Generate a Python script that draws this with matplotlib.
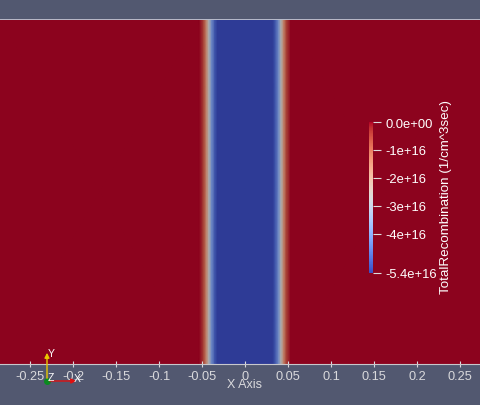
import numpy as np
import matplotlib
matplotlib.use("Agg")
import matplotlib.pyplot as plt
from matplotlib.colors import ListedColormap, Normalize
from matplotlib.cm import ScalarMappable

# total recombination profile across the junction (x in um, values in 1e16 1/cm^3sec)
x_pos = [-0.285, -0.053, -0.048, -0.045, -0.042, -0.039, -0.035, -0.032,
         0.032, 0.035, 0.039, 0.042, 0.045, 0.048, 0.053, 0.275]
recomb = [0.0, 0.0, -0.6, -1.5, -2.7, -4.0, -5.0, -5.4,
          -5.4, -5.0, -4.0, -2.7, -1.5, -0.6, 0.0, 0.0]
y_pos = [0.0, 1.0]
vmin, vmax = -5.4, 0.0
cbar_ticks = [0.0, -1.0, -2.0, -3.0, -4.0, -5.4]
cbar_labels = ["0.0e+00", "-1e+16", "-2e+16", "-3e+16", "-4e+16", "-5.4e+16"]
xticks = [-0.25, -0.2, -0.15, -0.1, -0.05, 0, 0.05, 0.1, 0.15, 0.2, 0.25]
xtick_labels = ["-0.25", "-0.2", "-0.15", "-0.1", "-0.05", "0", "0.05", "0.1", "0.15", "0.2", "0.25"]

bg = "#525870"
txt = "#d9d9dc"
plt.rcParams['font.family'] = ['Liberation Sans', 'DejaVu Sans']

W, H = 480, 406
fig = plt.figure(figsize=(W / 100, H / 100), dpi=100, facecolor=bg)

# lit surface looks darker than the colour legend
base = plt.get_cmap("coolwarm")(np.linspace(0, 1, 256))
lit = base.copy()
lit[:, :3] *= 0.78
lit_cmap = ListedColormap(lit)

ax = fig.add_axes([0, (H - 365) / H, 1, 345 / H])
ax.set_facecolor(bg)
X, Y = np.meshgrid(x_pos, y_pos)
Z = np.vstack([recomb, recomb])
ax.pcolormesh(X, Y, Z, cmap=lit_cmap, vmin=vmin, vmax=vmax, shading="gouraud")
ax.set_xlim(-245 / 860, 235 / 860)
ax.set_ylim(0, 1)
ax.set_yticks([])
for s in ["left", "right"]:
    ax.spines[s].set_visible(False)
ax.spines["top"].set_color("#b8bccb")
ax.spines["top"].set_linewidth(0.7)
ax.spines["bottom"].set_color("#c8c8cc")
ax.spines["bottom"].set_linewidth(0.8)
ax.set_xticks(xticks, labels=xtick_labels)
ax.tick_params(axis="x", direction="inout", length=5, width=0.8, color=txt,
               labelcolor=txt, labelsize=9.2, pad=1.5)
ax.set_xlabel("X Axis", color=txt, fontsize=9, va="center")
ax.xaxis.set_label_coords(245 / W, (365 - 385) / 345)

# colour legend
cax = fig.add_axes([369 / W, (H - 274) / H, 4 / W, 151 / H])
sm = ScalarMappable(norm=Normalize(vmin, vmax), cmap="coolwarm")
cb = fig.colorbar(sm, cax=cax, ticks=cbar_ticks)
cb.set_ticklabels(cbar_labels)
cb.outline.set_visible(False)
cax.tick_params(length=6, width=0.8, color="#dddddd", labelcolor="white",
                labelsize=9.4, pad=3)
fig.text(446 / W, 1 - 197 / H, "TotalRecombination (1/cm^3sec)", rotation=90,
         color="white", fontsize=9.6, ha="center", va="center")

# orientation triad
tri = fig.add_axes([0, 0, 1, 1], facecolor="none")
tri.set_xlim(0, W)
tri.set_ylim(H, 0)
tri.axis("off")
ox, oy = 47, 382
tri.annotate("", xy=(79, oy), xytext=(ox, oy),
             arrowprops=dict(arrowstyle="-|>", color="#e01010", lw=1.0, mutation_scale=7))
tri.annotate("", xy=(ox, 351), xytext=(ox, oy),
             arrowprops=dict(arrowstyle="-|>", color="#e8c800", lw=1.0, mutation_scale=7))
tri.plot([ox], [oy], "o", color="#0a8a20", ms=4)
tri.text(77, 379, "X", color="white", fontsize=7.5, ha="center", va="center")
tri.text(51, 354, "Y", color="white", fontsize=7.5, ha="center", va="center")
tri.text(51, 378, "Z", color="white", fontsize=7.5, ha="center", va="center")

fig.savefig("out.png", dpi=100, facecolor=bg)
